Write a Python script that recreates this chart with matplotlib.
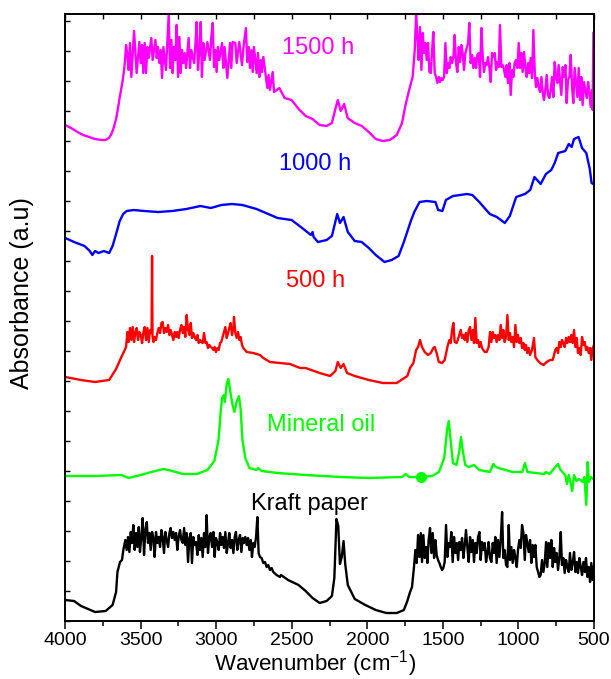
import matplotlib
matplotlib.use("Agg")
import matplotlib.pyplot as plt
from matplotlib.ticker import MultipleLocator
import numpy as np

plt.rcParams['font.family'] = ['Liberation Sans', 'DejaVu Sans']
plt.rcParams['mathtext.default'] = 'regular'

# FTIR spectra, (wavenumber cm-1, absorbance a.u.) with the stacking offset already included
kraft_paper = [
    (4000, 21), (3940, 20), (3894, 15), (3801, 9), (3731, 10), (3685, 16), (3662, 29),
    (3653, 49), (3636, 59), (3623, 61), (3614, 71),
    (3601, 81), (3592, 71), (3583, 84), (3574, 69), (3565, 89), (3556, 78), (3548, 96),
    (3539, 71), (3530, 88), (3521, 74), (3512, 94), (3504, 69), (3495, 84), (3486, 103),
    (3477, 66), (3468, 91), (3459, 99), (3451, 78), (3442, 88), (3433, 71), (3424, 89),
    (3415, 83), (3407, 64), (3398, 89), (3389, 78), (3380, 84), (3371, 74), (3362, 91),
    (3354, 84), (3345, 68), (3336, 89), (3327, 81), (3318, 74), (3309, 88), (3301, 93),
    (3292, 83), (3283, 89), (3274, 81), (3265, 88), (3257, 71), (3248, 84), (3239, 91),
    (3230, 81), (3221, 78), (3212, 93), (3204, 76), (3195, 88), (3186, 59), (3177, 83),
    (3168, 88), (3160, 58), (3151, 84), (3142, 76), (3133, 79), (3124, 66), (3115, 86),
    (3107, 71), (3098, 83), (3089, 64), (3080, 88), (3071, 74), (3063, 106), (3054, 68),
    (3045, 84), (3036, 88), (3027, 74), (3018, 89), (3010, 64), (3001, 83), (2992, 78),
    (2983, 71), (2974, 88), (2966, 76), (2957, 84), (2948, 73), (2939, 89), (2930, 68),
    (2921, 78), (2913, 88), (2904, 73), (2895, 81), (2886, 68), (2877, 84), (2869, 89),
    (2860, 71), (2851, 81), (2842, 86), (2833, 69), (2824, 83), (2816, 78), (2807, 84),
    (2798, 76), (2789, 83), (2780, 71), (2771, 81), (2763, 64), (2754, 78), (2745, 74),
    (2736, 84), (2727, 104), (2719, 68), (2710, 64), (2699, 63), (2688, 58), (2677, 59),
    (2666, 54), (2655, 56), (2644, 51), (2633, 53), (2622, 49), (2600, 46), (2578, 44),
    (2571, 46), (2524, 41), (2455, 36), (2408, 30), (2362, 23), (2315, 18), (2269, 20),
    (2234, 25), (2218, 43), (2204, 102), (2192, 95), (2181, 57), (2169, 64), (2157, 80),
    (2146, 57), (2129, 36), (2083, 22), (2013, 16), (1944, 11), (1874, 8), (1805, 8),
    (1758, 11), (1735, 20), (1717, 29), (1704, 34),
    (1691, 54), (1682, 71), (1673, 58), (1664, 86), (1655, 64), (1646, 88), (1638, 59),
    (1629, 86), (1620, 63), (1611, 74), (1602, 58), (1594, 81), (1585, 93), (1576, 68),
    (1567, 88), (1558, 63), (1549, 81), (1541, 66), (1532, 61), (1523, 58), (1514, 54),
    (1505, 51), (1497, 53), (1488, 59), (1479, 96), (1470, 64), (1461, 78), (1452, 74),
    (1444, 89), (1435, 59), (1426, 84), (1417, 68), (1408, 78), (1399, 61), (1391, 79),
    (1382, 71), (1373, 83), (1364, 63), (1355, 76), (1347, 91), (1338, 74), (1329, 59),
    (1320, 84), (1311, 69), (1302, 81), (1294, 59), (1285, 78), (1276, 68), (1267, 84),
    (1258, 89), (1250, 61), (1241, 79), (1232, 71), (1223, 78), (1214, 59), (1205, 68),
    (1197, 79), (1188, 63), (1179, 59), (1170, 78), (1161, 68), (1153, 84), (1144, 58),
    (1135, 81), (1126, 64), (1117, 81), (1108, 109), (1100, 63), (1091, 71), (1082, 56),
    (1073, 54), (1064, 96), (1056, 61), (1047, 74), (1038, 58), (1029, 71), (1020, 63),
    (1011, 54), (1003, 71), (994, 81), (985, 73), (976, 96), (967, 88), (958, 61),
    (950, 86), (941, 78), (932, 69), (923, 81), (914, 58), (906, 76), (897, 64),
    (888, 76), (879, 54), (870, 49), (861, 44), (853, 46), (844, 61), (835, 49),
    (826, 58), (817, 79), (809, 54), (800, 78), (791, 63), (782, 81), (773, 54),
    (764, 73), (756, 59), (747, 68), (738, 51), (729, 64), (720, 89), (712, 56),
    (703, 63), (694, 48), (685, 61), (676, 54), (667, 49), (659, 68), (650, 51),
    (641, 58), (632, 69), (623, 49), (614, 59), (606, 48), (597, 63), (588, 54),
    (579, 46), (570, 59), (561, 49), (553, 63), (544, 44), (535, 54), (526, 39),
    (518, 58), (509, 41), (504, 54),
]

mineral_oil = [
    (3998, 145), (3801, 145), (3627, 146), (3580, 143), (3499, 146), (3429, 149),
    (3348, 152), (3290, 150), (3221, 147), (3128, 147), (3058, 151), (3012, 160),
    (2984, 181), (2970, 209), (2961, 223), (2949, 226), (2942, 219), (2930, 237),
    (2919, 242), (2907, 230), (2891, 216), (2879, 209), (2865, 219), (2849, 225),
    (2838, 212), (2826, 181), (2807, 163), (2780, 153), (2733, 151), (2722, 153),
    (2698, 150), (2594, 148), (2408, 146), (2176, 144), (1990, 143), (1770, 144),
    (1746, 147), (1723, 144), (1642, 144), (1572, 145), (1526, 149), (1491, 163),
    (1472, 191), (1461, 200), (1449, 181), (1433, 158), (1410, 156), (1391, 170),
    (1380, 184), (1368, 170), (1352, 156), (1329, 154), (1294, 156), (1259, 151),
    (1189, 149), (1166, 157), (1150, 154), (1108, 152), (1038, 149), (974, 149),
    (957, 158), (941, 149), (830, 147), (818, 149), (795, 147), (755, 154),
    (737, 157), (725, 152), (709, 149), (690, 146), (679, 137), (667, 146),
    (656, 139), (644, 130), (632, 146), (616, 140), (598, 142), (574, 139),
    (563, 144), (551, 116), (542, 159), (533, 139), (523, 144), (505, 142),
]
oil_marker = (1645, 144)

aged_500h = [
    (3998, 244), (3894, 241), (3801, 239), (3708, 241), (3662, 252), (3627, 264),
    (3614, 268), (3596, 274),
    (3587, 289), (3579, 279), (3570, 293), (3561, 281), (3552, 294), (3543, 279),
    (3534, 289), (3526, 293), (3517, 281), (3508, 289), (3499, 286), (3490, 278),
    (3482, 288), (3473, 294), (3464, 281), (3455, 293), (3446, 279), (3437, 291),
    (3429, 288), (3427, 292), (3424, 365), (3421, 285), (3415, 279), (3407, 284),
    (3398, 281), (3389, 288), (3380, 293), (3371, 288), (3362, 298), (3354, 299),
    (3345, 288), (3336, 293), (3327, 289), (3318, 296), (3309, 286), (3301, 291),
    (3292, 286), (3283, 281), (3274, 289), (3265, 284), (3257, 289), (3248, 283),
    (3239, 291), (3230, 296), (3221, 288), (3212, 294), (3204, 284), (3195, 306),
    (3186, 291), (3177, 286), (3168, 298), (3160, 283), (3151, 288), (3142, 284),
    (3133, 281), (3124, 286), (3115, 278), (3107, 281), (3098, 279), (3089, 278),
    (3080, 288), (3071, 278), (3063, 279), (3054, 273), (3045, 276), (3036, 274),
    (3027, 273), (3018, 271), (3010, 274), (3001, 269), (2992, 273), (2983, 271),
    (2974, 278), (2966, 279), (2957, 284), (2948, 289), (2939, 294), (2930, 283),
    (2921, 288), (2913, 293), (2904, 298), (2895, 286), (2886, 293), (2882, 304),
    (2873, 288), (2864, 283), (2855, 289), (2846, 281), (2838, 284), (2829, 276),
    (2820, 273), (2798, 269), (2754, 268), (2710, 266), (2688, 263), (2644, 259),
    (2577, 258), (2511, 257), (2445, 253), (2408, 253), (2315, 248), (2246, 245),
    (2211, 250), (2195, 259), (2176, 253), (2157, 257), (2134, 248), (2083, 245),
    (1990, 241), (1897, 238), (1805, 238), (1735, 245), (1717, 253), (1695, 258),
    (1677, 271), (1664, 274), (1651, 281), (1638, 274), (1620, 269), (1598, 266),
    (1580, 268), (1563, 273), (1554, 274), (1541, 268), (1527, 259), (1505, 258),
    (1488, 261), (1470, 274), (1457, 281), (1448, 278), (1439, 291), (1430, 298),
    (1422, 279), (1408, 278), (1395, 284), (1382, 291), (1373, 283), (1364, 286),
    (1355, 281), (1347, 288), (1338, 279), (1329, 291), (1320, 294), (1311, 281),
    (1302, 291), (1294, 278), (1285, 303), (1276, 278), (1267, 281), (1258, 274),
    (1250, 279), (1241, 273), (1232, 271), (1223, 269), (1210, 269), (1197, 274),
    (1188, 289), (1179, 279), (1170, 289), (1161, 283), (1153, 286), (1144, 279),
    (1135, 286), (1126, 281), (1117, 296), (1108, 283), (1100, 291), (1091, 279),
    (1082, 284), (1073, 306), (1064, 281), (1056, 288), (1047, 279), (1038, 284),
    (1029, 274), (1020, 296), (1011, 279), (1003, 286), (994, 278), (985, 283),
    (976, 273), (967, 278), (958, 271), (950, 276), (941, 268), (932, 273),
    (923, 266), (910, 271), (897, 283), (888, 264), (875, 261), (857, 258),
    (835, 256), (813, 259), (791, 261), (773, 261), (756, 271), (747, 273),
    (738, 268), (729, 279), (720, 274), (712, 281), (703, 278), (694, 274),
    (685, 283), (676, 278), (668, 284), (659, 279), (650, 286), (641, 278),
    (632, 291), (623, 274), (614, 283), (606, 268), (597, 273), (588, 266),
    (579, 284), (570, 276), (561, 279), (553, 271), (544, 274), (535, 268),
    (526, 273), (518, 261), (509, 273), (500, 276),
]

aged_1000h = [
    (3998, 383), (3940, 379), (3871, 375), (3836, 370), (3819, 366), (3801, 370),
    (3778, 368), (3743, 370), (3708, 368), (3685, 375), (3662, 387), (3638, 400),
    (3615, 407), (3592, 410), (3546, 411), (3476, 410), (3383, 409), (3290, 410),
    (3197, 412), (3104, 415), (3035, 413), (2965, 416), (2895, 417), (2826, 416),
    (2733, 412), (2640, 406), (2594, 403), (2501, 401), (2431, 393), (2373, 386),
    (2362, 389), (2355, 384), (2327, 379), (2269, 381), (2234, 385), (2199, 407),
    (2181, 398), (2157, 404), (2129, 389), (2083, 380), (2037, 379), (1990, 373),
    (1944, 366), (1886, 359), (1839, 361), (1793, 365), (1758, 379), (1712, 400),
    (1689, 409), (1654, 419), (1607, 420), (1549, 419), (1531, 411), (1503, 410),
    (1480, 421), (1433, 425), (1340, 427), (1305, 426), (1259, 419), (1213, 411),
    (1189, 407), (1143, 404), (1090, 398), (1057, 405), (1015, 424), (957, 427),
    (922, 431), (894, 444), (853, 437), (818, 447), (783, 451), (760, 458),
    (737, 468), (690, 470), (667, 477), (648, 474), (632, 482), (602, 484),
    (579, 473), (551, 468), (528, 452), (516, 438), (505, 437),
]

aged_1500h = [
    (4000, 496), (3960, 493), (3917, 489), (3880, 486), (3840, 484), (3801, 482),
    (3760, 481), (3731, 481), (3710, 483), (3696, 486), (3680, 492), (3662, 502),
    (3650, 512), (3639, 523), (3628, 532), (3618, 541), (3610, 550), (3603, 560),
    (3596, 576), (3587, 566), (3579, 551), (3570, 578), (3561, 544), (3543, 590),
    (3526, 548), (3508, 579), (3499, 558), (3490, 576), (3482, 548), (3473, 578),
    (3464, 548), (3455, 574), (3446, 563), (3429, 583), (3420, 561), (3402, 581),
    (3393, 563), (3385, 574), (3376, 558), (3367, 571), (3358, 543), (3349, 574),
    (3332, 551), (3323, 578), (3314, 606), (3305, 553), (3296, 581), (3288, 548),
    (3279, 574), (3270, 561), (3261, 596), (3252, 544), (3243, 584), (3235, 548),
    (3226, 571), (3217, 558), (3208, 568), (3199, 553), (3182, 583), (3173, 553),
    (3164, 571), (3146, 558), (3138, 574), (3129, 599), (3120, 551), (3111, 571),
    (3102, 599), (3094, 544), (3085, 578), (3076, 561), (3058, 579), (3041, 561),
    (3032, 584), (3023, 598), (3014, 554), (3005, 571), (2997, 549), (2988, 574),
    (2979, 561), (2961, 578), (2952, 553), (2944, 574), (2926, 543), (2908, 578),
    (2900, 553), (2891, 579), (2873, 578), (2864, 558), (2847, 579), (2829, 556),
    (2820, 573), (2803, 593), (2794, 559), (2785, 574), (2776, 553), (2767, 571),
    (2758, 549), (2750, 574), (2732, 548), (2723, 568), (2714, 544), (2705, 561),
    (2697, 549), (2688, 564), (2670, 543), (2661, 533), (2653, 546), (2644, 531),
    (2626, 549), (2617, 529), (2600, 531), (2582, 533), (2547, 523), (2501, 521),
    (2454, 512), (2408, 505), (2362, 502), (2315, 496), (2269, 495), (2234, 498),
    (2211, 512), (2195, 521), (2176, 510), (2153, 517), (2130, 503), (2083, 498),
    (2036, 495), (1990, 489), (1944, 482), (1897, 480), (1851, 481), (1805, 486),
    (1770, 498), (1747, 516), (1723, 531), (1700, 544), (1695, 554), (1686, 571),
    (1677, 606), (1668, 584), (1660, 561), (1651, 594), (1642, 551), (1633, 588),
    (1624, 568), (1616, 578), (1607, 561), (1598, 578), (1589, 549), (1580, 548),
    (1571, 571), (1563, 589), (1554, 548), (1545, 544), (1536, 538), (1527, 544),
    (1519, 539), (1510, 543), (1501, 541), (1492, 544), (1483, 578), (1474, 548),
    (1466, 558), (1457, 553), (1448, 564), (1439, 558), (1430, 564), (1422, 586),
    (1413, 558), (1404, 549), (1395, 574), (1386, 559), (1377, 576), (1369, 568),
    (1360, 551), (1351, 568), (1342, 573), (1333, 578), (1325, 598), (1316, 558),
    (1307, 566), (1298, 553), (1289, 563), (1280, 553), (1272, 566), (1263, 568),
    (1254, 544), (1245, 593), (1236, 564), (1228, 549), (1219, 558), (1210, 556),
    (1201, 564), (1192, 553), (1183, 539), (1175, 568), (1166, 564), (1157, 568),
    (1148, 551), (1139, 559), (1130, 554), (1122, 596), (1113, 554), (1104, 556),
    (1095, 551), (1086, 544), (1078, 556), (1069, 538), (1060, 558), (1051, 526),
    (1042, 551), (1033, 544), (1025, 558), (1016, 561), (1007, 553), (998, 578),
    (989, 553), (981, 568), (972, 549), (963, 569), (954, 554), (945, 544),
    (936, 558), (928, 548), (919, 563), (910, 543), (901, 591), (892, 549),
    (884, 534), (875, 543), (866, 534), (857, 529), (848, 544), (839, 528),
    (831, 521), (822, 531), (813, 546), (804, 526), (795, 523), (786, 531),
    (778, 544), (769, 524), (760, 559), (751, 544), (742, 538), (734, 556),
    (725, 541), (716, 526), (707, 554), (698, 544), (689, 556), (681, 518),
    (672, 541), (663, 544), (654, 566), (645, 534), (637, 518), (628, 553),
    (619, 538), (610, 524), (601, 553), (592, 521), (584, 544), (575, 516),
    (566, 539), (557, 531), (548, 523), (539, 539), (531, 529), (522, 514),
    (513, 531), (509, 511), (504, 588),
]

series_names = ["Kraft paper", "Mineral oil", "500 h", "1000 h", "1500 h"]
series_data = [kraft_paper, mineral_oil, aged_500h, aged_1000h, aged_1500h]
series_colors = ["#000000", "#00FF00", "#FF0000", "#0000FF", "#FF00FF"]
# where each curve's name sits (wavenumber, baseline height)
label_spots = [(2386, 111), (2306, 190), (2339, 334), (2346, 451), (2326, 567)]

fig = plt.figure(figsize=(6.11, 6.79), dpi=100)
ax = fig.add_axes([65 / 611, 58 / 679, 529 / 611, 607 / 679])

for name, data, color, spot in zip(series_names, series_data, series_colors, label_spots):
    arr = np.array(data, dtype=float)
    ax.plot(arr[:, 0], arr[:, 1], color=color, lw=1.7, solid_joinstyle='round')
    ax.text(spot[0], spot[1], name, color=color, fontsize=17,
            ha='center', va='baseline')

ax.plot(oil_marker[0], oil_marker[1], 'o', color="#00FF00", ms=7)

ax.set_xlim(4000, 500)
ax.set_ylim(0, 607)

ax.xaxis.set_major_locator(MultipleLocator(500))
ax.xaxis.set_minor_locator(MultipleLocator(250))
ax.tick_params(axis='x', which='major', direction='out', length=6, width=1.1,
               labelsize=14, pad=2)
ax.tick_params(axis='x', which='minor', direction='out', length=3.5, width=1.1)
ax.yaxis.set_major_locator(MultipleLocator(30))
ax.tick_params(axis='y', which='major', direction='in', length=3.5, width=1,
               labelleft=False)

top = ax.twiny()
top.set_xlim(4000, 500)
top.xaxis.set_major_locator(MultipleLocator(250))
top.tick_params(axis='x', direction='in', length=3.5, width=1, labeltop=False)

for a in (ax, top):
    for sp in a.spines.values():
        sp.set_linewidth(1.2)

fig.text(315 / 611, 1 - 664 / 679, "Wavenumber (cm$^{-1}$)", fontsize=16,
         ha='center', va='center')
fig.text(22 / 611, 1 - 293 / 679, "Absorbance (a.u)", fontsize=18,
         ha='center', va='center', rotation=90)

fig.savefig("out.png", dpi=100)
